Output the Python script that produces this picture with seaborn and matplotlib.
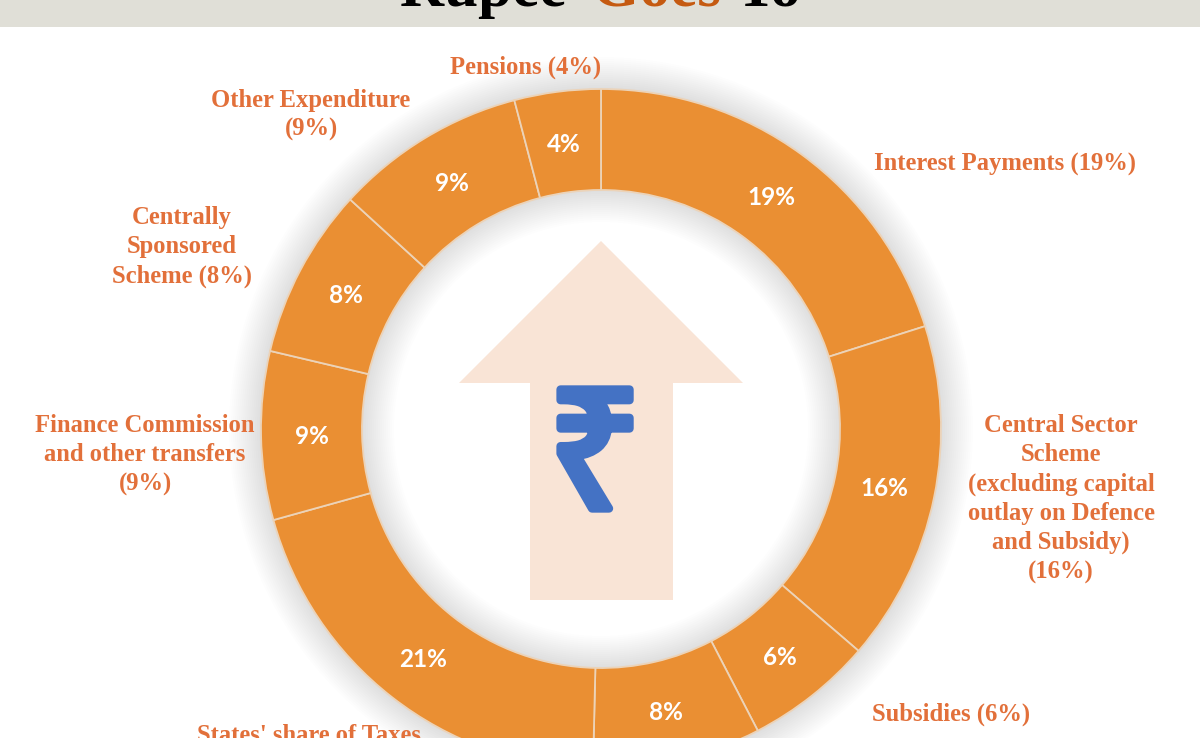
import matplotlib
matplotlib.use("Agg")
import matplotlib.pyplot as plt
import matplotlib.patches as mpatches
import matplotlib.patheffects as pe
import numpy as np
import seaborn as sns

shares = [20.1, 16.2, 6.05, 8.0, 20.3, 8.0, 8.1, 9.1, 4.1]
pct_labels = ["19%", "16%", "6%", "8%", "21%", "9%", "8%", "9%", "4%"]

outer_labels = [
    "Interest Payments (19%)",
    "Central Sector\nScheme\n(excluding capital\noutlay on Defence\nand Subsidy)\n(16%)",
    "Subsidies (6%)",
    "States' share of Taxes",
    "Finance Commission\nand other transfers\n(9%)",
    "Centrally\nSponsored\nScheme (8%)",
    "Other Expenditure\n(9%)",
    "Pensions (4%)",
]
outer_x = [1005, 1061, 951, 309, 145, 182, 311, 526]
outer_y = [164, 499, 714, 736, 455, 247, 115, 67]

title_parts = ["Rupee", "Goes", "To"]
title_x = [400, 592, 735]
title_colors = ["#000000", "#c55a11", "#000000"]

RING = "#ea8f33"
LABEL = "#e2703a"
SERIF = "Liberation Serif"

sns.set_theme(style="white")
plt.rcParams["font.family"] = [SERIF, "DejaVu Sans"]

W, H = 1200, 738
fig = plt.figure(figsize=(12, 7.38), dpi=100)
ax = fig.add_axes([0, 0, 1, 1])

cx, cy = 601, H - 429
r_out, r_in = 340, 239

# soft shadow round the ring
for d in range(2, 34, 2):
    ax.add_patch(mpatches.Wedge((cx, cy), r_out + d, 0, 360, width=r_out - r_in + 2 * d,
                                color="#555555", alpha=0.006, lw=0, zorder=1))

wedges, _ = ax.pie(shares, startangle=90, counterclock=False, center=(cx, cy), radius=r_out,
                   colors=[RING] * len(shares),
                   wedgeprops=dict(width=r_out - r_in, edgecolor="#ecd3b8", linewidth=1.3, zorder=2))

ax.set_xlim(0, W)
ax.set_ylim(0, H)
ax.set_aspect("auto")
ax.axis("off")

for w, lab in zip(wedges, pct_labels):
    mid = np.deg2rad((w.theta1 + w.theta2) / 2)
    ax.text(cx + 289 * np.cos(mid), cy + 289 * np.sin(mid) - 2, lab, color="white", fontsize=17.5,
            fontweight="bold", family="Lato", ha="center", va="center", zorder=3)

for lab, x, y in zip(outer_labels, outer_x, outer_y):
    ax.text(x, H - y, lab, color=LABEL, fontsize=17.7, fontweight="bold", ha="center",
            va="center", linespacing=1.335, zorder=3)

# arrow in the middle
ax.add_patch(mpatches.Polygon(
    [(601, H - 241), (743, H - 383), (673, H - 383), (673, H - 600),
     (530, H - 600), (530, H - 383), (459, H - 383)],
    closed=True, facecolor="#f9e4d6", edgecolor="none", zorder=2))
rupee = ax.text(595, H - 465, "\u20b9", color="#4472c4", fontsize=120, family=["Noto Sans", "DejaVu Sans"],
                ha="center", va="center", zorder=3)
rupee.set_path_effects([pe.withStroke(linewidth=6, foreground="#4472c4", capstyle="round", joinstyle="round")])

# header band, title is cut off by the top edge
ax.add_patch(mpatches.Rectangle((0, H - 27), W, 27, facecolor="#e0dfd7", edgecolor="none", zorder=4))
for part, x, col in zip(title_parts, title_x, title_colors):
    ax.text(x, H - 6, part, color=col, fontsize=44, fontweight="bold", ha="left",
            va="baseline", zorder=5)

fig.savefig("out.png", dpi=100)
